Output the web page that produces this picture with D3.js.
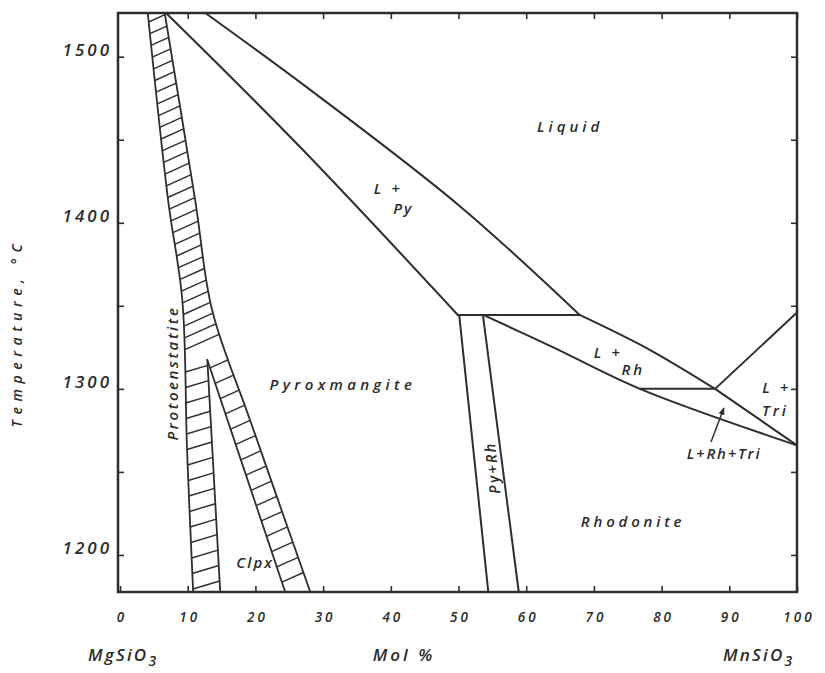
<!DOCTYPE html>
<html><head><meta charset="utf-8">
<script src="https://cdn.jsdelivr.net/npm/d3@7"></script>
<style>
body{margin:0;background:#fff;}
svg text{font-family:"Open Sans","DejaVu Sans",sans-serif;font-style:italic;font-weight:600;fill:#2b2b2b;}
</style></head><body>
<svg id="c" width="825" height="673"></svg>
<script>
// ---------- data ----------
const xTickValues = [0,10,20,30,40,50,60,70,80,90,100];
const yTickValues = [1200,1250,1300,1350,1400,1450,1500];
const yLabelValues = [1200,1300,1400,1500];
const yTitle = "Temperature, °C";
const xTitle = "Mol %";
const leftMember = "MgSiO";
const rightMember = "MnSiO";
// phase boundaries: [mol % MnSiO3, temperature °C]
const pyLiquidus  = [[12.6,1526.3],[28.1,1480],[50.2,1410],[67.9,1344.5]];
const pySolidus   = [[6.8,1526.3],[26.6,1445.6],[49.9,1344.5]];
const peritectic  = [[49.9,1344.5],[67.9,1344.5]];
const pyRhLeft    = [[50.1,1344.5],[54.4,1177.7]];
const pyRhRight   = [[53.6,1344.5],[58.9,1177.7]];
const rhSolidus   = [[53.8,1344.3],[64.0,1325],[76.8,1300],[100,1266]];
const rhLiquidus  = [[67.9,1344.5],[78.3,1323.4],[87.9,1300]];
const eutectic    = [[76.8,1300],[87.9,1300]];
const triLiquidus = [[87.9,1300],[100,1346]];
const triSolidus  = [[87.9,1300],[100,1266]];
// protoenstatite / clinopyroxene bands (hatched)
const peLeft   = [[4.1,1526.3],[7.1,1413.7],[9.2,1353.5],[9.9,1263.2],[10.8,1177.7]];
const peRight  = [[6.6,1526.3],[11.1,1413.7],[13.6,1347.5],[19.2,1281.3],[28.1,1177.7]];
const cpxLeft  = [[12.9,1317.4],[14.8,1177.7]];
const cpxRight = [[12.9,1317.4],[24.4,1177.7]];
const arrowPts = [[87.3,1268],[89.2,1288.5]];
const labels = [
  {t:"Liquid", x:66.2, T:1458.3, ls:4},
  {t:"L +", x:39.4, T:1420.9, ls:3},
  {t:"Py", x:41.7, T:1408.9, ls:2},
  {t:"Pyroxmangite", x:32.6, T:1302.8, ls:4.3},
  {t:"Clpx", x:19.8, T:1195.8, ls:2},
  {t:"L +", x:71.9, T:1322.2, ls:3},
  {t:"Rh", x:75.6, T:1312, ls:3},
  {t:"Rhodonite", x:75.5, T:1220.5, ls:3.8},
  {t:"L +", x:96.8, T:1301, ls:3},
  {t:"Tri", x:96.6, T:1287.3, ls:3},
  {t:"L+Rh+Tri", x:89.1, T:1261.4, ls:1.8}
];
const rotLabels = [
  {t:"Protoenstatite", x:7.7, T:1309.5, rot:-90, ls:2.6},
  {t:"Py+Rh", x:54.9, T:1252.4, rot:-96, ls:2}
];

// ---------- scales ----------
const svg = d3.select("#c");
const x = d3.scaleLinear().domain([-0.3,100]).range([118,797]);
const y = d3.scaleLinear().domain([1177.7,1526.3]).range([592,13]);
const ink = "#2e2e2e";

const g = svg.append("g");
const line = d3.line().x(d=>x(d[0])).y(d=>y(d[1]));
const curve = d3.line().x(d=>x(d[0])).y(d=>y(d[1])).curve(d3.curveCatmullRom.alpha(0.5));

function draw(pts, smooth){
  return g.append("path").attr("d",(smooth?curve:line)(pts))
    .attr("fill","none").attr("stroke",ink).attr("stroke-width",2)
    .attr("stroke-linejoin","round").attr("stroke-linecap","round");
}
draw(pyLiquidus,true); draw(pySolidus,true); draw(peritectic,false);
draw(pyRhLeft,false); draw(pyRhRight,false);
draw(rhSolidus,true); draw(rhLiquidus,true); draw(eutectic,false);
draw(triLiquidus,false); draw(triSolidus,false);

const pL = draw(peLeft,true).attr("stroke-width",1.8);
const pR = draw(peRight,true).attr("stroke-width",1.8);
const cL = draw(cpxLeft,false).attr("stroke-width",1.8);
const cR = draw(cpxRight,false).attr("stroke-width",1.8);

function sampler(node){
  const L=node.getTotalLength(), pts=[];
  for(let s=0;s<=L;s+=0.5){const p=node.getPointAtLength(s);pts.push([p.x,p.y]);}
  return yy=>{
    for(let i=1;i<pts.length;i++){const a=pts[i-1],b=pts[i];
      if((a[1]-yy)*(b[1]-yy)<=0 && a[1]!==b[1]){const t=(yy-a[1])/(b[1]-a[1]);return a[0]+t*(b[0]-a[0]);}}
    return null;};
}
const fPL=sampler(pL.node()), fPR=sampler(pR.node()), fCL=sampler(cL.node()), fCR=sampler(cR.node());
function hatch(fl,fr,y0,y1,step,slope){
  for(let yy=y0; yy<=y1; yy+=step){
    const xl=fl(yy); if(xl==null) continue;
    let yr=yy, xr=fr(yr); if(xr==null) continue;
    for(let k=0;k<4;k++){yr=yy-slope*(xr-xl); const t=fr(yr); if(t==null) break; xr=t;}
    g.append("line").attr("x1",xl).attr("y1",yy).attr("x2",xr).attr("y2",yr)
      .attr("stroke",ink).attr("stroke-width",1.4);
  }
}
const apexY = y(cpxLeft[0][1]);
hatch(fPL,fPR,22,apexY-2,11.7,0.45);
hatch(fPL,fCL,apexY+12,590,15.5,0.3);
hatch(fCR,fPR,apexY+8,590,15.3,0.45);

// arrow
svg.append("defs").append("marker").attr("id","ah").attr("viewBox","0 0 10 10")
  .attr("refX",9).attr("refY",5).attr("markerWidth",5).attr("markerHeight",5).attr("orient","auto")
  .append("path").attr("d","M0,1L10,5L0,9Z").attr("fill",ink);
g.append("line").attr("x1",x(arrowPts[0][0])).attr("y1",y(arrowPts[0][1]))
  .attr("x2",x(arrowPts[1][0])).attr("y2",y(arrowPts[1][1]))
  .attr("stroke",ink).attr("stroke-width",1.5).attr("marker-end","url(#ah)");

// frame
svg.append("rect").attr("x",x.range()[0]).attr("y",y.range()[1])
  .attr("width",x.range()[1]-x.range()[0]).attr("height",y.range()[0]-y.range()[1])
  .attr("fill","none").attr("stroke",ink).attr("stroke-width",2.5);

// axes
const axL = svg.append("g").attr("transform",`translate(${x.range()[0]},0)`)
  .call(d3.axisLeft(y).tickValues(yTickValues).tickSize(-6).tickPadding(6)
    .tickFormat(d=>yLabelValues.includes(d)?d:""));
const axR = svg.append("g").attr("transform",`translate(${x.range()[1]},0)`)
  .call(d3.axisRight(y).tickValues(yTickValues).tickSize(-6).tickFormat(""));
const axB = svg.append("g").attr("transform",`translate(0,${y.range()[0]})`)
  .call(d3.axisBottom(x).tickValues(xTickValues).tickSize(-6).tickPadding(20));
const axT = svg.append("g").attr("transform",`translate(0,${y.range()[1]})`)
  .call(d3.axisTop(x).tickValues(xTickValues.slice(1)).tickSize(-6).tickFormat(""));
[axL,axR,axB,axT].forEach(a=>{a.select(".domain").remove();
  a.selectAll(".tick line").attr("stroke",ink).attr("stroke-width",1.6);});
svg.selectAll(".tick text").attr("font-family",null);
axL.selectAll("text").attr("font-size",17).attr("letter-spacing",3).attr("dy","-0.06em")
  .attr("fill","#2b2b2b");
axB.selectAll("text").attr("font-size",13.5).attr("letter-spacing",3)
  .attr("dx","1.5").attr("fill","#2b2b2b");

// titles
svg.append("text").attr("transform",`translate(22,333) rotate(-90)`)
  .attr("text-anchor","middle").attr("font-size",14).attr("letter-spacing",5.6).text(yTitle);
const tl = svg.append("text").attr("x",88).attr("y",661).attr("font-size",17).attr("letter-spacing",2.2);
tl.append("tspan").text(leftMember);
tl.append("tspan").attr("dy",5).attr("font-size",14).text("3");
svg.append("text").attr("x",404).attr("y",661).attr("text-anchor","middle").attr("font-size",17)
  .attr("letter-spacing",3).text(xTitle);
const tr = svg.append("text").attr("x",723).attr("y",661).attr("font-size",17).attr("letter-spacing",2.2);
tr.append("tspan").text(rightMember);
tr.append("tspan").attr("dy",5).attr("font-size",14).text("3");

// region labels
g.selectAll("text.lab").data(labels).join("text").attr("class","lab")
  .attr("x",d=>x(d.x)+d.ls/2).attr("y",d=>y(d.T)).attr("dominant-baseline","central")
  .attr("text-anchor","middle").attr("font-size",15).attr("letter-spacing",d=>d.ls).text(d=>d.t);
g.selectAll("text.rlab").data(rotLabels).join("text").attr("class","rlab")
  .attr("transform",d=>`translate(${x(d.x)},${y(d.T)}) rotate(${d.rot})`)
  .attr("dominant-baseline","central").attr("text-anchor","middle")
  .attr("font-size",15).attr("letter-spacing",d=>d.ls).text(d=>d.t);
</script>
</body></html>
